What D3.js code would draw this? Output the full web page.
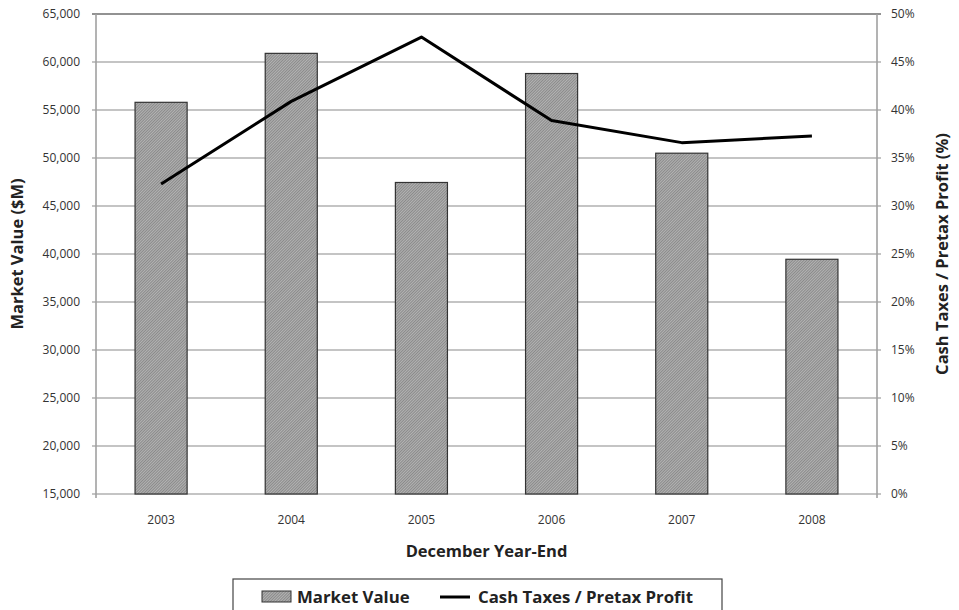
<!DOCTYPE html>
<html>
<head>
<meta charset="utf-8">
<script src="https://d3js.org/d3.v7.min.js"></script>
<style>
  body { margin: 0; background: #fff; }
  svg { display: block; font-family: "Open Sans", "Liberation Sans", sans-serif; }
</style>
</head>
<body>
<div id="chart"></div>
<script>
const years = ['2003', '2004', '2005', '2006', '2007', '2008'];
const marketValue = [55800, 60900, 47450, 58800, 50500, 39450];
const taxRatio = [32.3, 40.9, 47.6, 38.9, 36.6, 37.3];
const leftTicks = [15000, 20000, 25000, 30000, 35000, 40000, 45000, 50000, 55000, 60000, 65000];
const rightTicks = [0, 5, 10, 15, 20, 25, 30, 35, 40, 45, 50];

const width = 959, height = 610;
const margin = { left: 96, right: 82, top: 14, bottom: 116 };

const svg = d3.select('#chart').append('svg')
  .attr('width', width)
  .attr('height', height);

// fine hatch pattern for bars
const defs = svg.append('defs');
const pat = defs.append('pattern')
  .attr('id', 'hatch')
  .attr('patternUnits', 'userSpaceOnUse')
  .attr('width', 2)
  .attr('height', 2)
  .attr('patternTransform', 'rotate(45)');
pat.append('rect').attr('width', 2).attr('height', 2).attr('fill', '#b3b3b3');
pat.append('rect').attr('width', 1).attr('height', 2).attr('fill', '#8a8a8a');

const x = d3.scaleBand()
  .domain(years)
  .range([margin.left, width - margin.right])
  .paddingInner(0.6)
  .paddingOuter(0.3);

const yLeft = d3.scaleLinear()
  .domain([15000, 65000])
  .range([height - margin.bottom, margin.top]);

const yRight = d3.scaleLinear()
  .domain([0, 50])
  .range([height - margin.bottom, margin.top]);

const plotL = margin.left, plotR = width - margin.right;
const plotB = height - margin.bottom, plotT = margin.top;

// gridlines
svg.append('g')
  .selectAll('line')
  .data(leftTicks)
  .join('line')
  .attr('x1', plotL - 4)
  .attr('x2', plotR + 4)
  .attr('y1', d => yLeft(d))
  .attr('y2', d => yLeft(d))
  .attr('stroke', d => d === 65000 ? '#6e6e6e' : '#b0b0b0')
  .attr('stroke-width', 1.6);

// vertical axis lines
svg.append('line')
  .attr('x1', plotL).attr('x2', plotL)
  .attr('y1', plotT).attr('y2', plotB + 4)
  .attr('stroke', '#a0a0a0').attr('stroke-width', 1.6);
svg.append('line')
  .attr('x1', plotR).attr('x2', plotR)
  .attr('y1', plotT).attr('y2', plotB + 4)
  .attr('stroke', '#a0a0a0').attr('stroke-width', 1.6);

// bars
svg.append('g')
  .selectAll('rect')
  .data(marketValue)
  .join('rect')
  .attr('x', (d, i) => x(years[i]))
  .attr('y', d => yLeft(d))
  .attr('width', x.bandwidth())
  .attr('height', d => yLeft(15000) - yLeft(d))
  .attr('fill', 'url(#hatch)')
  .attr('stroke', '#333')
  .attr('stroke-width', 1.2);

// line
const line = d3.line()
  .x((d, i) => x(years[i]) + x.bandwidth() / 2)
  .y(d => yRight(d));

svg.append('path')
  .datum(taxRatio)
  .attr('d', line)
  .attr('fill', 'none')
  .attr('stroke', '#000')
  .attr('stroke-width', 3)
  .attr('stroke-linejoin', 'round');

// tick labels
svg.append('g')
  .selectAll('text')
  .data(leftTicks)
  .join('text')
  .attr('x', plotL - 16)
  .attr('y', d => yLeft(d))
  .attr('dy', '0.35em')
  .attr('text-anchor', 'end')
  .attr('font-size', 12)
  .attr('fill', '#333')
  .text(d => d3.format(',')(d));

svg.append('g')
  .selectAll('text')
  .data(rightTicks)
  .join('text')
  .attr('x', plotR + 14)
  .attr('y', d => yRight(d))
  .attr('dy', '0.35em')
  .attr('text-anchor', 'start')
  .attr('font-size', 12)
  .attr('fill', '#333')
  .text(d => d + '%');

svg.append('g')
  .selectAll('text')
  .data(years)
  .join('text')
  .attr('x', d => x(d) + x.bandwidth() / 2)
  .attr('y', plotB + 30)
  .attr('text-anchor', 'middle')
  .attr('font-size', 12)
  .attr('fill', '#333')
  .text(d => d);

// axis titles
svg.append('text')
  .attr('x', (plotL + plotR) / 2)
  .attr('y', 557)
  .attr('text-anchor', 'middle')
  .attr('font-size', 16.5)
  .attr('font-weight', 'bold')
  .attr('fill', '#222')
  .text('December Year-End');

svg.append('text')
  .attr('transform', `translate(23, ${(plotT + plotB) / 2}) rotate(-90)`)
  .attr('text-anchor', 'middle')
  .attr('font-size', 16.5)
  .attr('font-weight', 'bold')
  .attr('fill', '#222')
  .text('Market Value ($M)');

svg.append('text')
  .attr('transform', `translate(948, ${(plotT + plotB) / 2}) rotate(-90)`)
  .attr('text-anchor', 'middle')
  .attr('font-size', 16.5)
  .attr('font-weight', 'bold')
  .attr('fill', '#222')
  .text('Cash Taxes / Pretax Profit (%)');

// legend
const legend = svg.append('g');
legend.append('rect')
  .attr('x', 233).attr('y', 579)
  .attr('width', 489).attr('height', 40)
  .attr('fill', '#fff')
  .attr('stroke', '#444')
  .attr('stroke-width', 1.2);
legend.append('rect')
  .attr('x', 262).attr('y', 591)
  .attr('width', 29).attr('height', 11)
  .attr('fill', 'url(#hatch)')
  .attr('stroke', '#333');
legend.append('text')
  .attr('x', 297).attr('y', 602.5)
  .attr('font-size', 16.8)
  .attr('font-weight', 'bold')
  .attr('fill', '#222')
  .text('Market Value');
legend.append('line')
  .attr('x1', 440).attr('x2', 470)
  .attr('y1', 597).attr('y2', 597)
  .attr('stroke', '#000').attr('stroke-width', 3);
legend.append('text')
  .attr('x', 478).attr('y', 602.5)
  .attr('font-size', 16.8)
  .attr('font-weight', 'bold')
  .attr('fill', '#222')
  .text('Cash Taxes / Pretax Profit');
</script>
</body>
</html>
